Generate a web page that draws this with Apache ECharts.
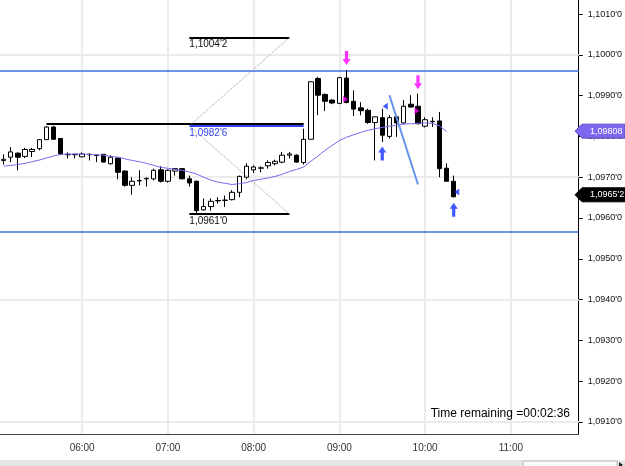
<!DOCTYPE html>
<html>
<head>
<meta charset="utf-8">
<script src="https://cdn.jsdelivr.net/npm/echarts@6/dist/echarts.min.js"></script>
<style>
html, body { margin: 0; padding: 0; background: #fff; }
#chart { width: 625px; height: 466px; }
</style>
</head>
<body>
<div id="chart"></div>
<script>
// 5 min bars, first bar 05:05, axis keeps empty slots to the right
let firstBarMinute = 305;
let barMinutes = 5;
let slotCount = 81;

// [open, close, low, high]
let candles = [
    [1.09741, 1.09744, 1.09731, 1.09756],
    [1.09749, 1.09762, 1.09737, 1.09774],
    [1.09759, 1.09749, 1.09717, 1.09761],
    [1.09751, 1.09768, 1.09747, 1.09772],
    [1.09763, 1.09768, 1.09749, 1.09772],
    [1.09770, 1.09792, 1.09766, 1.09793],
    [1.09792, 1.09823, 1.09792, 1.09825],
    [1.09823, 1.09793, 1.09792, 1.09826],
    [1.09795, 1.09757, 1.09754, 1.09795],
    [1.09756, 1.09755, 1.09746, 1.09761],
    [1.09755, 1.09756, 1.09746, 1.09758],
    [1.09750, 1.09757, 1.09749, 1.09761],
    [1.09755, 1.09756, 1.09741, 1.09759],
    [1.09754, 1.09753, 1.09737, 1.09756],
    [1.09756, 1.09737, 1.09736, 1.09757],
    [1.09733, 1.09749, 1.09731, 1.09754],
    [1.09747, 1.09712, 1.09695, 1.09749],
    [1.09715, 1.09680, 1.09677, 1.09717],
    [1.09680, 1.09690, 1.09657, 1.09700],
    [1.09691, 1.09692, 1.09680, 1.09717],
    [1.09696, 1.09697, 1.09677, 1.09700],
    [1.09696, 1.09717, 1.09692, 1.09721],
    [1.09718, 1.09690, 1.09687, 1.09727],
    [1.09690, 1.09717, 1.09687, 1.09719],
    [1.09715, 1.09721, 1.09704, 1.09722],
    [1.09721, 1.09696, 1.09695, 1.09722],
    [1.09696, 1.09686, 1.09677, 1.09704],
    [1.09690, 1.09618, 1.09610, 1.09692],
    [1.09620, 1.09628, 1.09618, 1.09648],
    [1.09628, 1.09641, 1.09618, 1.09648],
    [1.09643, 1.09642, 1.09635, 1.09651],
    [1.09643, 1.09644, 1.09627, 1.09655],
    [1.09645, 1.09663, 1.09643, 1.09668],
    [1.09663, 1.09702, 1.09651, 1.09704],
    [1.09700, 1.09727, 1.09695, 1.09734],
    [1.09718, 1.09725, 1.09710, 1.09729],
    [1.09722, 1.09723, 1.09712, 1.09727],
    [1.09728, 1.09736, 1.09721, 1.09741],
    [1.09733, 1.09739, 1.09729, 1.09743],
    [1.09737, 1.09754, 1.09734, 1.09762],
    [1.09754, 1.09757, 1.09746, 1.09762],
    [1.09754, 1.09737, 1.09736, 1.09756],
    [1.09736, 1.09793, 1.09731, 1.09819],
    [1.09793, 1.09934, 1.09792, 1.09935],
    [1.09942, 1.09901, 1.09852, 1.09946],
    [1.09903, 1.09886, 1.09862, 1.09905],
    [1.09889, 1.09882, 1.09879, 1.09891],
    [1.09881, 1.09944, 1.09879, 1.09945],
    [1.09943, 1.09883, 1.09881, 1.09962],
    [1.09886, 1.09867, 1.09850, 1.09913],
    [1.09870, 1.09863, 1.09852, 1.09884],
    [1.09864, 1.09834, 1.09831, 1.09868],
    [1.09834, 1.09848, 1.09741, 1.09849],
    [1.09846, 1.09803, 1.09786, 1.09868],
    [1.09800, 1.09846, 1.09795, 1.09852],
    [1.09848, 1.09833, 1.09799, 1.09849],
    [1.09833, 1.09874, 1.09831, 1.09889],
    [1.09879, 1.09872, 1.09871, 1.09901],
    [1.09874, 1.09831, 1.09830, 1.09905],
    [1.09825, 1.09841, 1.09822, 1.09847],
    [1.09837, 1.09836, 1.09823, 1.09847],
    [1.09838, 1.09721, 1.09700, 1.09860],
    [1.09722, 1.09690, 1.09690, 1.09734],
    [1.09690, 1.09652, 1.09651, 1.09704]
];

// moving average (purple)
let maValues = [
    1.09727, 1.09729, 1.09731, 1.09734, 1.09738, 1.09742, 1.09747, 1.09752, 1.09756, 1.09757,
    1.09757, 1.09757, 1.09756, 1.09755, 1.09754, 1.09751, 1.09749, 1.09745, 1.09741, 1.09738,
    1.09734, 1.09729, 1.09724, 1.09722, 1.09719, 1.09717, 1.09713, 1.09708, 1.09700, 1.09693,
    1.09688, 1.09685, 1.09682, 1.09684, 1.09687, 1.09692, 1.09695, 1.09698, 1.09702, 1.09707,
    1.09714, 1.09719, 1.09725, 1.09739, 1.09752, 1.09766, 1.09778, 1.09790, 1.09798, 1.09804,
    1.09810, 1.09815, 1.09819, 1.09822, 1.09825, 1.09827, 1.09830, 1.09831, 1.09832, 1.09833,
    1.09832, 1.09826, 1.09812
];

let priceTicks = [1.0910, 1.0920, 1.0930, 1.0940, 1.0950, 1.0960, 1.0970, 1.0980, 1.0990, 1.1000, 1.1010];
let gridPrices = [1.1000, 1.0970, 1.0940, 1.0910];
let gridTimes = ['06:00', '07:00', '08:00', '09:00', '10:00', '11:00'];

// drawn objects
let blueLevels = [1.09962, 1.09567];
let swingHigh = { price: 1.09832, from: 6, to: 42 };
let swingLabel = { price: 1.09826, from: 26, to: 42, text: "1,0982'6" };
let rangeHigh = { price: 1.10042, from: 26, to: 40, text: "1,1004'2" };
let rangeLow = { price: 1.09610, from: 26, to: 40, text: "1,0961'0" };
let trendLine = [[54, 1.09901], [58, 1.09682]];
let sellArrows = [[48, 1.09992], [58, 1.09933]];
let buyArrows = [[53, 1.09758], [63, 1.09620]];
let sellMarks = [[48, 1.09891], [58, 1.09863]];
let buyMarks = [[53, 1.09874], [63, 1.09664]];
let maLast = 1.09808;
let lastPrice = 1.09652;
let timeRemaining = 'Time remaining =00:02:36';

const FONT = 'Liberation Sans, Arial, sans-serif';

function pad(n) {
    return n < 10 ? '0' + n : '' + n;
}

let times = [];
for (let i = 0; i < slotCount; i++) {
    let m = firstBarMinute + i * barMinutes;
    times.push(pad(Math.floor(m / 60)) + ':' + pad(m % 60));
}

function fmtPrice(v) {
    let s = v.toFixed(5).replace('.', ',');
    return s.slice(0, -1) + "'" + s.slice(-1);
}

function isHour(index, value) {
    return value.slice(-3) === ':00';
}

function segment(lv, color, width) {
    return [
        { coord: [lv.from, lv.price], lineStyle: { color: color, width: width, type: 'solid' } },
        { coord: [lv.to, lv.price] }
    ];
}

// background grid + full width blue levels (behind the bars)
let gridLines = [];
gridPrices.forEach(p => gridLines.push({ yAxis: p }));
gridTimes.forEach(t => gridLines.push({ xAxis: t }));
blueLevels.forEach(p => gridLines.push({ yAxis: p, lineStyle: { color: '#3f6fe0', width: 1.5, type: 'solid' } }));

let drawLines = [];
drawLines.push(segment(swingHigh, '#000', 2));
drawLines.push(segment(swingLabel, '#3344ee', 2));
drawLines.push(segment(rangeHigh, '#000', 2));
drawLines.push(segment(rangeLow, '#000', 2));
// dotted zig-zag
drawLines.push([
    { coord: [rangeHigh.from, swingLabel.price], lineStyle: { color: '#9a9a9a', width: 1, type: 'dotted' } },
    { coord: [rangeHigh.to, rangeHigh.price] }
]);
drawLines.push([
    { coord: [rangeLow.from, swingLabel.price], lineStyle: { color: '#9a9a9a', width: 1, type: 'dotted' } },
    { coord: [rangeLow.to, rangeLow.price] }
]);
drawLines.push([
    { coord: trendLine[0], lineStyle: { color: '#6495ed', width: 2, type: 'solid' } },
    { coord: trendLine[1] }
]);

let option = {
    animation: false,
    backgroundColor: '#fff',
    grid: { left: 0, right: 44, top: 0, bottom: 32 },
    xAxis: {
        type: 'category',
        data: times,
        boundaryGap: true,
        axisLine: { lineStyle: { color: '#444', width: 1 } },
        axisTick: { alignWithLabel: true, interval: isHour, length: 4, lineStyle: { color: '#444' } },
        axisLabel: { interval: isHour, fontSize: 10, color: '#333', margin: 9, fontFamily: FONT },
        splitLine: { show: false }
    },
    yAxis: {
        type: 'value',
        position: 'right',
        min: 1.090705,
        max: 1.101344,
        axisLine: { show: true, lineStyle: { color: '#000', width: 1 } },
        axisTick: { show: true, length: 4, customValues: priceTicks, lineStyle: { color: '#000' } },
        axisLabel: { customValues: priceTicks, formatter: fmtPrice, fontSize: 9, color: '#111', margin: 9, fontFamily: FONT },
        splitLine: { show: false }
    },
    series: [
        {
            name: 'ma',
            type: 'line',
            data: maValues,
            symbol: 'none',
            z: 3,
            lineStyle: { color: '#7b68ee', width: 1 },
            markLine: {
                silent: true,
                z: 1,
                precision: 6,
                symbol: ['none', 'none'],
                label: { show: false },
                lineStyle: { color: '#ebebeb', width: 2, type: 'solid' },
                data: gridLines
            }
        },
        {
            name: 'bars',
            type: 'candlestick',
            data: candles,
            barWidth: 5,
            z: 2,
            itemStyle: {
                color: '#fff',
                color0: '#000',
                borderColor: '#000',
                borderColor0: '#000',
                borderWidth: 1
            },
            markLine: {
                silent: true,
                precision: 6,
                symbol: ['none', 'none'],
                label: { show: false },
                data: drawLines
            }
        },
        {
            type: 'scatter',
            data: sellArrows,
            z: 4,
            symbol: 'path://M3,0L7,0L7,8L10,8L5,14L0,8L3,8Z',
            symbolSize: [8, 14],
            itemStyle: { color: '#ff00ff' }
        },
        {
            type: 'scatter',
            data: buyArrows,
            z: 4,
            symbol: 'path://M5,0L10,6L7,6L7,14L3,14L3,6L0,6Z',
            symbolSize: [8, 14],
            itemStyle: { color: '#1030ff' }
        },
        {
            type: 'scatter',
            data: sellMarks,
            z: 4,
            symbol: 'triangle',
            symbolSize: [7, 5],
            symbolRotate: -90,
            symbolOffset: [-1, 0],
            itemStyle: { color: '#ff00ff' }
        },
        {
            type: 'scatter',
            data: buyMarks,
            z: 4,
            symbol: 'triangle',
            symbolSize: [7, 5],
            symbolRotate: 90,
            symbolOffset: [3, 0],
            itemStyle: { color: '#1030ff' }
        }
    ]
};

let myChart = echarts.init(document.getElementById('chart'));
myChart.setOption(option);

// labels and price boxes, placed through the chart's own scales
function px(bar, price) {
    return myChart.convertToPixel({ gridIndex: 0 }, [bar, price]);
}

function levelText(lv, color, dy) {
    let p = px(lv.from, lv.price);
    return {
        type: 'text', z: 10, silent: true,
        style: { x: p[0], y: p[1] + dy, text: lv.text, fill: color, font: '10px ' + FONT, align: 'left', verticalAlign: 'top' }
    };
}

function priceBox(price, text, fill, stroke) {
    let y = px(0, price)[1] - 2;
    return [
        {
            type: 'polygon', z: 10, silent: true,
            shape: { points: [[575, y], [582, y - 7], [625, y - 7], [625, y + 7], [582, y + 7]] },
            style: { fill: fill, stroke: stroke, lineWidth: 1 }
        },
        {
            type: 'text', z: 11, silent: true,
            style: { x: 590, y: y, text: text, fill: '#fff', font: '9px ' + FONT, align: 'left', verticalAlign: 'middle' }
        }
    ];
}

let graphics = [];
graphics.push(levelText(rangeHigh, '#111', 2));
graphics.push(levelText(swingLabel, '#3344ee', 2));
graphics.push(levelText(rangeLow, '#111', 2));
graphics = graphics.concat(priceBox(maLast, maLast.toFixed(5).replace('.', ','), '#7b68ee', '#5a4fc8'));
graphics = graphics.concat(priceBox(lastPrice, fmtPrice(lastPrice), '#000', '#000'));
graphics.push({
    type: 'text', z: 10, silent: true,
    style: { x: 570, y: 414, text: timeRemaining, fill: '#000', font: '12px ' + FONT, align: 'right', verticalAlign: 'middle' }
});
// scrollbar strip at the bottom
graphics.push({
    type: 'rect', z: 10, silent: true,
    shape: { x: 0, y: 460, width: 625, height: 6 },
    style: { fill: '#e6e6e6' }
});
graphics.push({
    type: 'rect', z: 11, silent: true,
    shape: { x: 523, y: 461, width: 94, height: 6 },
    style: { fill: '#fafafa', stroke: '#b8b8b8', lineWidth: 1 }
});
graphics.push({
    type: 'polygon', z: 11, silent: true,
    shape: { points: [[619, 462], [623, 465], [619, 468]] },
    style: { fill: '#222' }
});

myChart.setOption({ graphic: graphics });
</script>
</body>
</html>
